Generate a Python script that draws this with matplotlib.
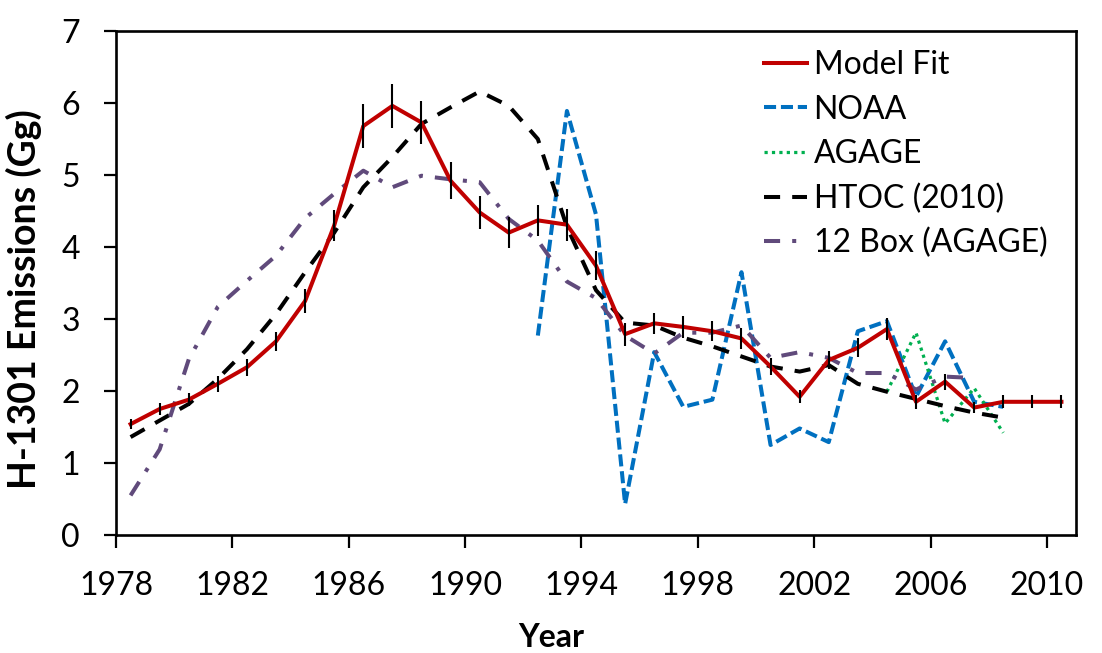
import numpy as np
import matplotlib
matplotlib.use("Agg")
import matplotlib.pyplot as plt

plt.rcParams['font.family'] = ['Lato', 'DejaVu Sans']

# Annual emissions of H-1301 (Gg); values are annual means plotted at mid-year
fit_years = np.arange(1978, 2011)
fit_values = [1.54, 1.75, 1.88, 2.10, 2.33, 2.69, 3.25, 4.30, 5.68, 5.96,
              5.73, 4.92, 4.48, 4.20, 4.37, 4.31, 3.74, 2.79, 2.94, 2.89,
              2.83, 2.73, 2.34, 1.92, 2.43, 2.60, 2.86, 1.85, 2.13, 1.77,
              1.85, 1.85, 1.85]
fit_errors = [0.07, 0.09, 0.09, 0.11, 0.12, 0.13, 0.16, 0.22, 0.30, 0.31,
              0.30, 0.26, 0.23, 0.22, 0.22, 0.22, 0.20, 0.16, 0.15, 0.15,
              0.14, 0.14, 0.12, 0.09, 0.12, 0.13, 0.15, 0.10, 0.11, 0.08,
              0.09, 0.09, 0.09]

noaa_years = np.arange(1992, 2009)
noaa_values = [2.77, 5.89, 4.45, 0.43, 2.54, 1.78, 1.88, 3.65, 1.25, 1.48,
               1.29, 2.83, 2.97, 1.92, 2.69, 1.85, 1.78]

agage_years = np.arange(2004, 2009)
agage_values = [1.99, 2.81, 1.55, 2.04, 1.42]

htoc_years = np.arange(1978, 2009)
htoc_values = [1.36, 1.59, 1.82, 2.17, 2.58, 3.07, 3.65, 4.20, 4.83, 5.25,
               5.71, 5.94, 6.16, 5.96, 5.50, 4.28, 3.40, 2.95, 2.91, 2.74,
               2.62, 2.48, 2.34, 2.27, 2.36, 2.10, 1.99, 1.89, 1.79, 1.70,
               1.63]

box_years = np.arange(1978, 2008)
box_values = [0.55, 1.19, 2.44, 3.17, 3.53, 3.88, 4.40, 4.74, 5.06, 4.83,
              4.99, 4.94, 4.90, 4.39, 4.09, 3.52, 3.29, 2.77, 2.52, 2.81,
              2.81, 2.91, 2.46, 2.54, 2.46, 2.25, 2.25, 2.02, 2.20, 2.18]

x_ticks = list(range(1978, 2011, 4))

fig = plt.figure(figsize=(11.02, 6.53), dpi=100)
ax = fig.add_axes([0.1053, 0.1807, 0.8711, 0.7718])

lw = 2.9
mid = 0.5

ax.plot(noaa_years + mid, noaa_values, color='#0070C0', lw=lw,
        linestyle=(0, (3, 1.2)), label='NOAA', zorder=2)
ax.plot(agage_years + mid, agage_values, color='#00B050', lw=lw * 0.8,
        linestyle=(0, (1, 1.3)), label='AGAGE', zorder=2)
ax.plot(htoc_years + mid, htoc_values, color='black', lw=lw,
        linestyle=(0, (4, 3)), label='HTOC (2010)', zorder=2)
ax.plot(box_years + mid, box_values, color='#604A7B', lw=lw,
        linestyle=(0, (4, 3, 1, 3)), label='12 Box (AGAGE)', zorder=2)
ax.plot(fit_years + mid, fit_values, color='#C00000', lw=lw,
        label='Model Fit', zorder=3)
ax.errorbar(fit_years + mid, fit_values, yerr=fit_errors, fmt='none',
            ecolor='black', elinewidth=1.5, capsize=0, zorder=4)

ax.set_xlim(1978, 2011)
ax.set_ylim(0, 7)
ax.set_xticks(x_ticks)
ax.set_yticks(range(0, 8))

for s in ax.spines.values():
    s.set_linewidth(1.9)
ax.tick_params(axis='both', direction='out', length=9, width=1.6,
               labelsize=23)
ax.tick_params(axis='x', pad=17)
ax.tick_params(axis='y', pad=17)

ax.set_xlabel('Year', fontsize=23, fontweight='bold')
ax.set_ylabel('H-1301 Emissions (Gg)', fontsize=27, fontweight='bold')
ax.xaxis.set_label_coords(0.453, -0.175)
ax.yaxis.set_label_coords(-0.077, 0.468)

handles, labels = ax.get_legend_handles_labels()
order = ['Model Fit', 'NOAA', 'AGAGE', 'HTOC (2010)', '12 Box (AGAGE)']
hmap = dict(zip(labels, handles))
ax.legend([hmap[k] for k in order], order, loc='upper left',
          bbox_to_anchor=(0.675, 0.962), frameon=False, fontsize=23,
          handlelength=1.35, handletextpad=0.2, labelspacing=0.45,
          borderpad=0, borderaxespad=0)

fig.savefig('out.png', dpi=100)
